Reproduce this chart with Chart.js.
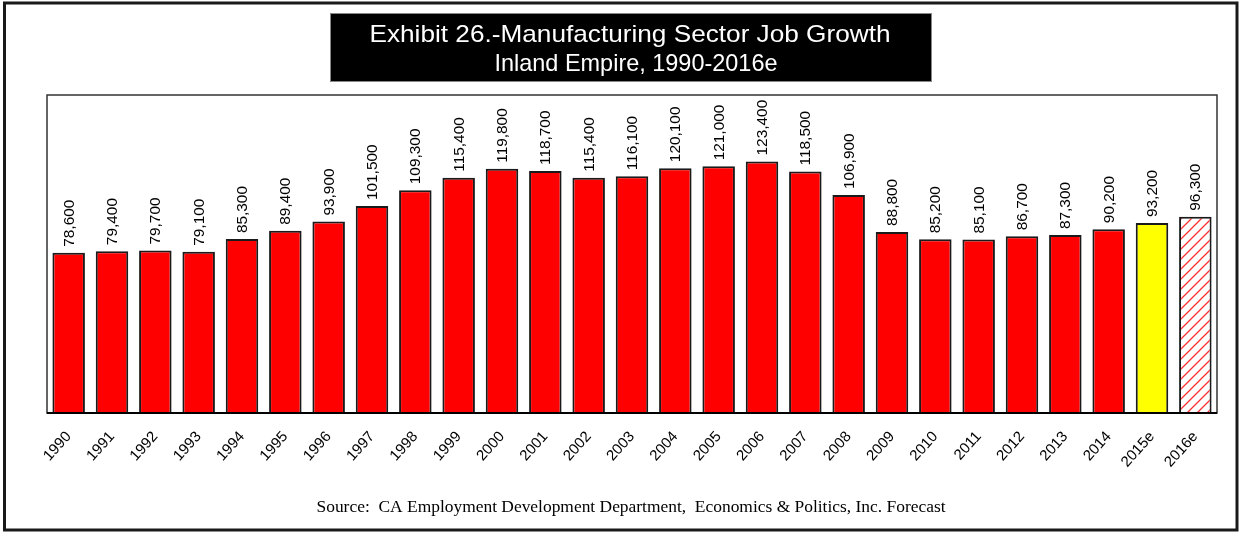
<!DOCTYPE html>
<html>
<head>
<meta charset="utf-8">
<script src="https://cdn.jsdelivr.net/npm/chart.js@4"></script>
<style>
  html, body { margin: 0; padding: 0; background: #fff; }
  canvas { display: block; }
</style>
</head>
<body>
<canvas id="jobs" width="1242" height="533"></canvas>
<script>
// Manufacturing jobs, Inland Empire, 1990-2016e
const years = ['1990', '1991', '1992', '1993', '1994', '1995', '1996', '1997', '1998', '1999',
               '2000', '2001', '2002', '2003', '2004', '2005', '2006', '2007', '2008', '2009',
               '2010', '2011', '2012', '2013', '2014', '2015e', '2016e'];
const jobs = [78600, 79400, 79700, 79100, 85300, 89400, 93900, 101500, 109300, 115400,
              119800, 118700, 115400, 116100, 120100, 121000, 123400, 118500, 106900, 88800,
              85200, 85100, 86700, 87300, 90200, 93200, 96300];
const titleLines = ['Exhibit 26.-Manufacturing Sector Job Growth', 'Inland Empire, 1990-2016e'];
const sourceNote = 'Source:  CA Employment Development Department,  Economics & Politics, Inc. Forecast';

// white tile with thin red "/" strokes for the forecast bar
function hatchPattern() {
    const s = 10;
    const c = document.createElement('canvas');
    c.width = s; c.height = s;
    const g = c.getContext('2d');
    g.fillStyle = '#fff';
    g.fillRect(0, 0, s, s);
    g.strokeStyle = '#ff3030';
    g.lineWidth = 1.3;
    g.beginPath();
    g.moveTo(0, s); g.lineTo(s, 0);
    g.moveTo(-1, 1); g.lineTo(1, -1);
    g.moveTo(s - 1, s + 1); g.lineTo(s + 1, s - 1);
    g.stroke();
    return g.createPattern(c, 'repeat');
}

const ctx = document.getElementById('jobs').getContext('2d');
const barColors = years.map(y => {
    if (y === '2016e') return hatchPattern();
    if (y === '2015e') return '#ffff00';
    return '#ff0000';
});

// draw text squeezed/stretched to a given width
function fitText(g, text, cx, y, width) {
    const w = g.measureText(text).width;
    g.save();
    g.translate(cx, y);
    g.scale(width / w, 1);
    g.textAlign = 'center';
    g.fillText(text, 0, 0);
    g.restore();
}

const framePlugin = {
    id: 'frame',
    beforeDraw(chart) {
        const g = chart.ctx;
        g.save();
        g.fillStyle = '#fff';
        g.fillRect(0, 0, chart.width, chart.height);

        // outer border
        g.strokeStyle = '#1a1a1a';
        g.lineWidth = 3;
        g.strokeRect(4.5, 3, 1232.5, 527);

        // title box
        g.fillStyle = '#000';
        g.fillRect(330, 13, 602, 69);
        g.strokeStyle = '#888';
        g.lineWidth = 1;
        g.strokeRect(330.5, 13.5, 601, 68);
        g.fillStyle = '#fff';
        g.textBaseline = 'alphabetic';
        g.font = '24px Arial, "Liberation Sans", sans-serif';
        fitText(g, titleLines[0], 630, 42, 521);
        fitText(g, titleLines[1], 636, 71, 283);

        // source line
        g.fillStyle = '#000';
        g.font = '16px "Liberation Serif", "Times New Roman", serif';
        fitText(g, sourceNote, 631, 512, 629);
        g.restore();
    },
    afterDraw(chart) {
        const a = chart.chartArea;
        const g = chart.ctx;
        g.save();
        g.strokeStyle = '#333';
        g.lineWidth = 1.5;
        g.strokeRect(a.left, a.top, a.right - a.left, a.bottom - a.top);
        g.strokeStyle = '#000';
        g.lineWidth = 2;
        g.beginPath();
        g.moveTo(a.left, a.bottom);
        g.lineTo(a.right, a.bottom);
        g.stroke();
        g.restore();
    }
};

// vertical value labels above each bar
const valueLabels = {
    id: 'valueLabels',
    afterDatasetsDraw(chart) {
        const g = chart.ctx;
        const meta = chart.getDatasetMeta(0);
        g.save();
        g.fillStyle = '#000';
        g.font = '14px Arial, "Liberation Sans", sans-serif';
        g.textAlign = 'left';
        g.textBaseline = 'middle';
        meta.data.forEach((bar, i) => {
            g.save();
            g.translate(bar.x + 1, bar.y - 6);
            g.rotate(-Math.PI / 2);
            g.scale(1.1, 1);
            g.fillText(jobs[i].toLocaleString('en-US'), 0, 0);
            g.restore();
        });
        g.restore();
    }
};

new Chart(ctx, {
    type: 'bar',
    data: {
        labels: years,
        datasets: [{
            label: 'Manufacturing jobs',
            data: jobs,
            backgroundColor: barColors,
            borderColor: '#1a1a1a',
            borderWidth: 2,
            barPercentage: 0.75,
            categoryPercentage: 1
        }]
    },
    options: {
        responsive: false,
        devicePixelRatio: 1,
        animation: false,
        layout: { padding: { top: 95, left: 47, right: 25, bottom: 0 } },
        plugins: {
            legend: { display: false },
            tooltip: { enabled: false }
        },
        scales: {
            y: { display: false, min: 0, max: 156000 },
            x: {
                grid: { display: false, drawTicks: false },
                border: { display: false },
                ticks: {
                    color: '#000',
                    font: { family: 'Arial, "Liberation Sans", sans-serif', size: 15 },
                    minRotation: 48, maxRotation: 48,
                    autoSkip: false,
                    padding: 15
                },
                afterFit(scale) {
                    scale.height = 120;
                    scale.paddingLeft = 0;
                    scale.paddingRight = 0;
                }
            }
        }
    },
    plugins: [framePlugin, valueLabels]
});
</script>
</body>
</html>
